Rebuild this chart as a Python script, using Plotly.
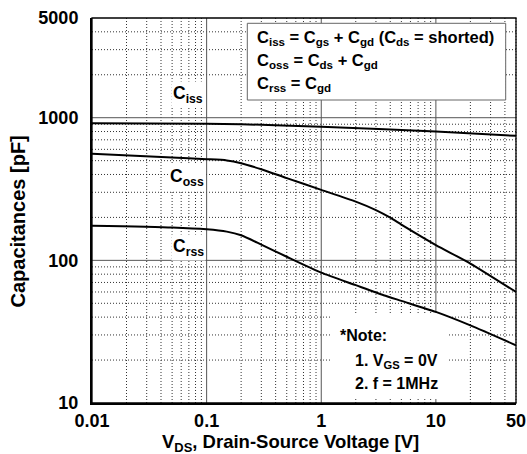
import math
import plotly.graph_objects as go

# ---------------- data ----------------
vds_ciss = [0.01, 0.1, 0.2, 1, 10, 50]
ciss = [916, 906, 900, 863, 800, 746]

vds_coss = [0.01, 0.05, 0.1, 0.15, 0.2, 0.3, 0.5, 1, 2, 3, 4, 5, 10, 20, 50]
coss = [558, 525, 512, 502, 480, 435, 377, 312, 258, 225, 199, 178, 128, 95, 60]

vds_crss = [0.01, 0.05, 0.1, 0.15, 0.2, 0.3, 0.5, 1, 2, 3.5, 5, 10, 20, 50]
crss = [175, 170, 165, 159, 150, 129, 106, 82, 67, 57, 52, 43.5, 35, 25.4]

x_tickvals = [0.01, 0.1, 1, 10, 50]
x_ticktext = ["0.01", "0.1", "1", "10", "50"]
y_tickvals = [10, 100, 1000, 5000]
y_ticktext = ["10", "100", "1000", "5000"]

x_major_grid = [0.1, 1, 10]
x_minor_grid = [m * d for d in (0.01, 0.1, 1, 10) for m in range(2, 10) if m * d <= 50]
y_major_grid = [100, 1000]
y_minor_grid = [m * d for d in (10, 100, 1000) for m in range(2, 10) if m * d < 5000]

XMIN, XMAX = 0.01, 50
YMIN, YMAX = 10, 5000

FONT = "Liberation Sans, Arial, Helvetica, sans-serif"


def xf(v):
    return (math.log10(v) - math.log10(XMIN)) / (math.log10(XMAX) - math.log10(XMIN))


def yf(v):
    return (math.log10(v) - math.log10(YMIN)) / (math.log10(YMAX) - math.log10(YMIN))


fig = go.Figure()
line_style = dict(color="black", width=2)
for xs, ys in ((vds_ciss, ciss), (vds_coss, coss), (vds_crss, crss)):
    fig.add_trace(go.Scatter(x=xs, y=ys, mode="lines", line=dict(shape="spline", smoothing=0.6, **line_style),
                             hoverinfo="skip", showlegend=False))

DOT = "1px,2px"
shapes = []
for v in x_minor_grid:
    shapes.append(dict(type="line", xref="paper", yref="paper", x0=xf(v), x1=xf(v), y0=0, y1=1,
                       line=dict(color="#333", width=1, dash=DOT), layer="below"))
for v in y_minor_grid:
    shapes.append(dict(type="line", xref="paper", yref="paper", y0=yf(v), y1=yf(v), x0=0, x1=1,
                       line=dict(color="#333", width=1, dash=DOT), layer="below"))
for v in x_major_grid:
    shapes.append(dict(type="line", xref="paper", yref="paper", x0=xf(v), x1=xf(v), y0=0, y1=1,
                       line=dict(color="#555", width=1), layer="below"))
for v in y_major_grid:
    shapes.append(dict(type="line", xref="paper", yref="paper", y0=yf(v), y1=yf(v), x0=0, x1=1,
                       line=dict(color="#555", width=1), layer="below"))

W, H = 527, 454
L, R, T, B = 92, 11, 18, 51
PW, PH = W - L - R, H - T - B


def px(x):  # page pixel -> paper fraction
    return (x - L) / PW


def py(y):
    return (H - B - y) / PH


# white area behind note
shapes.append(dict(type="rect", xref="paper", yref="paper", x0=px(330), x1=px(447), y0=py(399), y1=py(313),
                   fillcolor="white", line=dict(width=0), layer="below"))
# legend box
shapes.append(dict(type="rect", xref="paper", yref="paper", x0=px(247.3), x1=px(505.7), y0=py(100), y1=py(23.3),
                   fillcolor="white", line=dict(color="#666", width=1), layer="above"))
# top/right border
shapes.append(dict(type="rect", xref="paper", yref="paper", x0=0, x1=1, y0=0, y1=1,
                   line=dict(color="black", width=1.3), layer="above"))

annotations = []


def ann(text, x, y, size, xanchor="center", bg=None, **kw):
    d = dict(text=text, x=px(x), y=py(y), xref="paper", yref="paper", showarrow=False,
             xanchor=xanchor, yanchor="middle",
             font=dict(family=FONT, size=size, color="black", weight="bold"))
    if bg:
        d.update(bgcolor=bg, borderpad=1)
    d.update(kw)
    annotations.append(d)


ann("C<sub>iss</sub>", 188, 95, 17.5, bg="white")
ann("C<sub>oss</sub>", 187, 177, 17.5, bg="white")
ann("C<sub>rss</sub>", 188, 247, 17.5, bg="white")

ann("C<sub>iss</sub> = C<sub>gs</sub> + C<sub>gd</sub> (C<sub>ds</sub> = shorted)", 255, 38.5, 16.5, xanchor="left")
ann("C<sub>oss</sub> = C<sub>ds</sub> + C<sub>gd</sub>", 255, 61.5, 16.5, xanchor="left")
ann("C<sub>rss</sub> = C<sub>gd</sub>", 255, 84, 16.5, xanchor="left")

ann("*Note:", 338, 335, 16, xanchor="left")
ann("1. V<sub>GS</sub> = 0V", 353, 361, 16, xanchor="left")
ann("2. f = 1MHz", 353, 383, 16, xanchor="left")

ann("V<sub>DS</sub>, Drain-Source Voltage [V]", 290, 443, 18.5)
ann("Capacitances [pF]", 17.5, 222, 20, textangle=-90)

fig.update_layout(
    width=W, height=H, autosize=False,
    margin=dict(l=L, r=R, t=T, b=B, autoexpand=False),
    paper_bgcolor="white", plot_bgcolor="white",
    showlegend=False,
    shapes=shapes,
    annotations=annotations,
    xaxis=dict(type="log", range=[math.log10(XMIN), math.log10(XMAX)], automargin=False,
               tickvals=x_tickvals, ticktext=x_ticktext, showgrid=False, zeroline=False,
               showline=True, linecolor="black", linewidth=2, ticks="",
               ticklabelstandoff=0, ticklabeloverflow="allow",
               tickfont=dict(family=FONT, size=18, color="black", weight="bold")),
    yaxis=dict(type="log", range=[math.log10(YMIN), math.log10(YMAX)], automargin=False,
               tickvals=y_tickvals, ticktext=y_ticktext, showgrid=False, zeroline=False,
               showline=True, linecolor="black", linewidth=2, ticks="",
               ticklabelstandoff=8, ticklabeloverflow="allow",
               tickfont=dict(family=FONT, size=18, color="black", weight="bold")),
)

fig.write_html("out.html", config={"displayModeBar": False, "staticPlot": True},
               post_script="document.body.style.margin='0px';document.body.style.overflow='hidden';")
